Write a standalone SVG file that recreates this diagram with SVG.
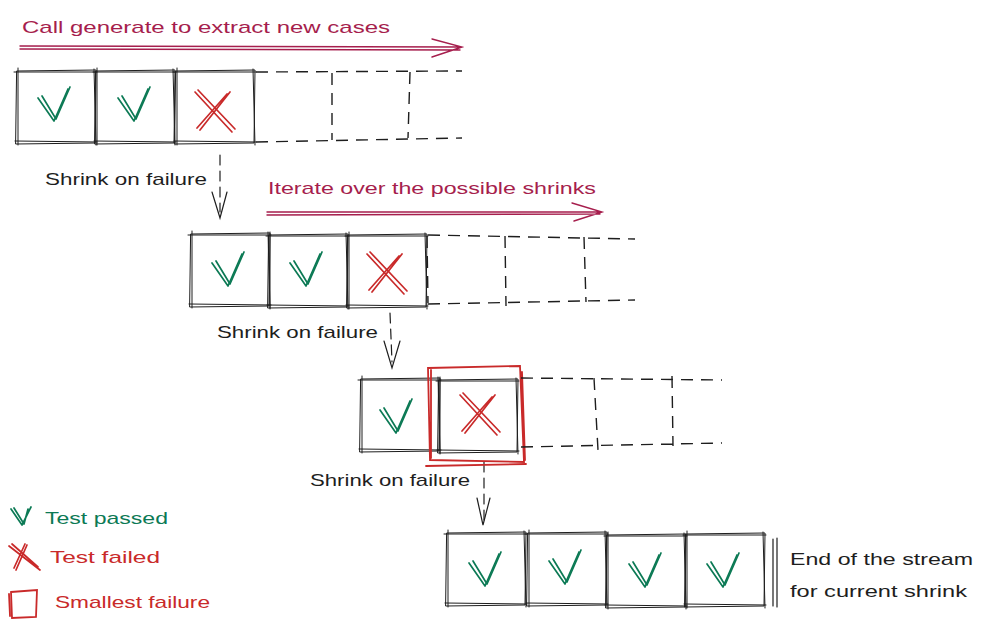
<svg xmlns="http://www.w3.org/2000/svg" width="983" height="628" viewBox="0 0 983 628">
<style>
text{font-family:"Liberation Sans","DejaVu Sans",sans-serif;font-size:17px}
.lbl{fill:#1e1e1e}
.pur{fill:#a61e4d}
.grn{fill:#0c7a55}
.red{fill:#c92a2a}
.box{fill:none;stroke:#1e1e1e;stroke-width:1;stroke-linecap:round}
.dash{fill:none;stroke:#1e1e1e;stroke-width:1.4;stroke-dasharray:12 8}
.chk{fill:none;stroke:#0c7a55;stroke-width:1.7;stroke-linecap:round;stroke-linejoin:round}
.crs{fill:none;stroke:#c92a2a;stroke-width:1.7;stroke-linecap:round}
.parr{fill:none;stroke:#a61e4d;stroke-width:1.4;stroke-linecap:round}
.darr{fill:none;stroke:#1e1e1e;stroke-width:1.2;stroke-linecap:round}
.rbox{fill:none;stroke:#c92a2a;stroke-width:1.8;stroke-linecap:round}
</style>
<defs>
<g id="sq">
<path class="box" d="M1,1 L80,0 L79,73 L0,74 Z"/>
<path class="box" d="M-2,2 L81,2 M78,-1 L80,75 M81,72 L-1,71 M2,75 L2,-2"/>
</g>
<g id="ck">
<path class="chk" d="M22,28 L38,51 L52,19"/>
<path class="chk" d="M26,26 L40,49 L54,17"/>
</g>
<g id="cx">
<path class="crs" d="M20,20 L57,60 M23,18 L60,57"/>
<path class="crs" d="M55,20 L25,58 M52,22 L22,56"/>
</g>
</defs>

<g id="connectors">
<path class="parr" d="M20,46 L462,47 M20,49 L460,50 M432,39 L462,47 L432,57"/>
<path class="parr" d="M267,212 L602,212 M267,215 L600,214 M572,203 L602,212 L574,221"/>
<path class="darr" d="M220,155 L220,212" stroke-dasharray="10 6"/>
<path class="darr" d="M212,192 L220,218 L227,192"/>
<path class="darr" d="M390,313 L392,362" stroke-dasharray="10 6"/>
<path class="darr" d="M384,341 L392,368 L400,341"/>
<path class="darr" d="M484,462 L484,520" stroke-dasharray="10 6"/>
<path class="darr" d="M477,498 L483,525 L490,498"/>
</g>

<g id="title1"><text class="pur" x="22" y="33" textLength="368" lengthAdjust="spacingAndGlyphs">Call generate to extract new cases</text></g>
<g id="title2"><text class="pur" x="268" y="194" textLength="328" lengthAdjust="spacingAndGlyphs">Iterate over the possible shrinks</text></g>
<g id="shrink1"><text class="lbl" x="45" y="185" textLength="162" lengthAdjust="spacingAndGlyphs">Shrink on failure</text></g>
<g id="shrink2"><text class="lbl" x="217" y="338" textLength="161" lengthAdjust="spacingAndGlyphs">Shrink on failure</text></g>
<g id="shrink3"><text class="lbl" x="310" y="486" textLength="160" lengthAdjust="spacingAndGlyphs">Shrink on failure</text></g>

<!-- Row 1 -->
<g id="r1c1"><use href="#sq" x="16" y="70"/><use href="#ck" x="16" y="70"/></g>
<g id="r1c2"><use href="#sq" x="95" y="70"/><use href="#ck" x="96" y="70"/></g>
<g id="r1c3"><use href="#sq" x="175" y="70"/><use href="#cx" x="175" y="72"/></g>
<g id="r1more"><path class="dash" d="M256,72 L462,71 M256,142 L462,138 M332,73 L332,140 M410,72 L408,138"/></g>

<!-- Row 2 -->
<g id="r2c1"><use href="#sq" x="190" y="233"/><use href="#ck" x="190" y="235"/></g>
<g id="r2c2"><use href="#sq" x="268" y="234"/><use href="#ck" x="268" y="235"/></g>
<g id="r2c3"><use href="#sq" x="347" y="234"/><use href="#cx" x="347" y="234"/></g>
<g id="r2more"><path class="dash" d="M428,235 L635,239 M428,304 L635,300 M427,236 L428,303 M505,236 L506,306 M584,237 L586,302"/></g>

<!-- Row 3 -->
<g id="r3c1"><use href="#sq" x="360" y="378"/><use href="#ck" x="358" y="382"/></g>
<g id="r3c2"><use href="#sq" x="438" y="379"/><use href="#cx" x="440" y="375"/></g>
<g id="smallest"><path class="rbox" d="M428,368 L520,366 L524,462 L430,460 Z M431,370 L431,458 M426,466 L526,464 M522,372 L525,460"/></g>
<g id="r3more"><path class="dash" d="M521,378 L722,380 M521,447 L722,443 M594,378 L598,450 M672,376 L673,446"/></g>

<!-- Row 4 -->
<g id="r4c1"><use href="#sq" x="446" y="532"/><use href="#ck" x="447" y="535"/></g>
<g id="r4c2"><use href="#sq" x="527" y="532"/><use href="#ck" x="527" y="533"/></g>
<g id="r4c3"><use href="#sq" x="606" y="534"/><use href="#ck" x="607" y="536"/></g>
<g id="r4c4"><use href="#sq" x="685" y="533"/><use href="#ck" x="685" y="536"/></g>
<g id="endmark"><path class="darr" stroke-width="1.8" d="M773,539 L773,606 M777,538 L777,607"/></g>
<g id="endtext">
<text class="lbl" x="790" y="565" textLength="183" lengthAdjust="spacingAndGlyphs">End of the stream</text>
<text class="lbl" x="790" y="597" textLength="177" lengthAdjust="spacingAndGlyphs">for current shrink</text>
</g>

<!-- Legend -->
<g id="legend-pass">
<path class="chk" d="M11,509 L22,525 L31,507 M14,508 L24,524 L28,509"/>
<text class="grn" x="45" y="524" textLength="123" lengthAdjust="spacingAndGlyphs">Test passed</text>
</g>
<g id="legend-fail">
<path class="crs" d="M9,546 L40,570 M12,544 L38,567 M27,545 L16,570 M25,544 L14,568"/>
<text class="red" x="50" y="563" textLength="110" lengthAdjust="spacingAndGlyphs">Test failed</text>
</g>
<g id="legend-smallest">
<path class="rbox" d="M11,592 L37,590 L36,617 L12,618 Z M9,594 L10,616"/>
<text class="red" x="55" y="608" textLength="155" lengthAdjust="spacingAndGlyphs">Smallest failure</text>
</g>
</svg>
